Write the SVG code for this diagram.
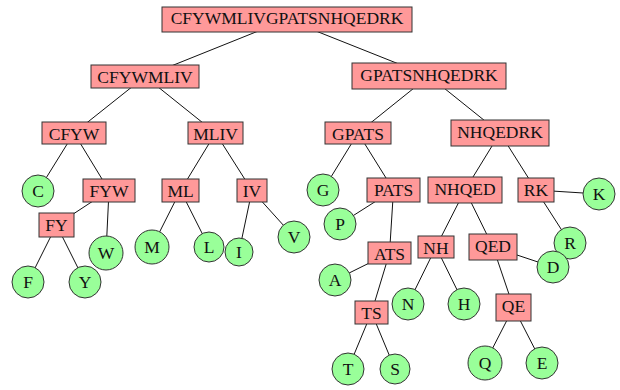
<svg xmlns="http://www.w3.org/2000/svg" width="620" height="390" viewBox="0 0 620 390">
<style>
.b{fill:#ff9999;stroke:#333;stroke-width:1}
.c{fill:#99ff99;stroke:#333;stroke-width:1}
text{font-family:"Liberation Serif","Times New Roman",serif;font-size:17.5px;fill:#111;text-anchor:middle}
#edges line{stroke:#111;stroke-width:1}
</style>
<rect width="620" height="390" fill="#fff"/>
<g id="edges">
<line x1="287" y1="19.5" x2="145" y2="76.5"/>
<line x1="287" y1="19.5" x2="429" y2="76"/>
<line x1="145" y1="76.5" x2="74" y2="133"/>
<line x1="145" y1="76.5" x2="215.5" y2="133"/>
<line x1="429" y1="76" x2="358" y2="133"/>
<line x1="429" y1="76" x2="500" y2="133"/>
<line x1="74" y1="133" x2="38" y2="191"/>
<line x1="74" y1="133" x2="109" y2="190.5"/>
<line x1="215.5" y1="133" x2="180.5" y2="190.5"/>
<line x1="215.5" y1="133" x2="252" y2="190.5"/>
<line x1="358" y1="133" x2="323" y2="190"/>
<line x1="358" y1="133" x2="393.5" y2="190"/>
<line x1="500" y1="133" x2="465" y2="190"/>
<line x1="500" y1="133" x2="536" y2="190"/>
<line x1="109" y1="190.5" x2="56.5" y2="225"/>
<line x1="109" y1="190.5" x2="106" y2="253"/>
<line x1="56.5" y1="225" x2="28" y2="282"/>
<line x1="56.5" y1="225" x2="85" y2="282"/>
<line x1="180.5" y1="190.5" x2="152" y2="247"/>
<line x1="180.5" y1="190.5" x2="209" y2="247"/>
<line x1="252" y1="190.5" x2="239" y2="252"/>
<line x1="252" y1="190.5" x2="294" y2="237"/>
<line x1="393.5" y1="190" x2="340" y2="224"/>
<line x1="393.5" y1="190" x2="389.5" y2="253"/>
<line x1="389.5" y1="253" x2="335" y2="280"/>
<line x1="389.5" y1="253" x2="371.5" y2="312.5"/>
<line x1="371.5" y1="312.5" x2="348" y2="369"/>
<line x1="371.5" y1="312.5" x2="395" y2="369"/>
<line x1="465" y1="190" x2="436" y2="247"/>
<line x1="465" y1="190" x2="493" y2="247"/>
<line x1="436" y1="247" x2="408" y2="304"/>
<line x1="436" y1="247" x2="464" y2="304"/>
<line x1="493" y1="247" x2="513.5" y2="307.5"/>
<line x1="493" y1="247" x2="553" y2="267"/>
<line x1="513.5" y1="307.5" x2="485" y2="363"/>
<line x1="513.5" y1="307.5" x2="542" y2="363"/>
<line x1="536" y1="190" x2="570" y2="243"/>
<line x1="536" y1="190" x2="599" y2="194"/>
</g>
<g id="n-root"><rect class="b" x="162" y="7" width="250" height="25"/><text x="287" y="24">CFYWMLIVGPATSNHQEDRK</text></g>
<g id="n-CFYWMLIV"><rect class="b" x="91" y="65" width="108" height="23"/><text x="145" y="82.5">CFYWMLIV</text></g>
<g id="n-GPATSNHQEDRK"><rect class="b" x="352" y="63" width="154" height="26"/><text x="429" y="81">GPATSNHQEDRK</text></g>
<g id="n-CFYW"><rect class="b" x="42" y="122" width="64" height="22"/><text x="74" y="139.5">CFYW</text></g>
<g id="n-MLIV"><rect class="b" x="188" y="122" width="55" height="22"/><text x="215.5" y="139.5">MLIV</text></g>
<g id="n-GPATS"><rect class="b" x="325" y="122" width="66" height="22"/><text x="358" y="139.5">GPATS</text></g>
<g id="n-NHQEDRK"><rect class="b" x="451" y="120" width="98" height="26"/><text x="500" y="138">NHQEDRK</text></g>
<g id="n-FYW"><rect class="b" x="83" y="179" width="52" height="23"/><text x="109" y="196.5">FYW</text></g>
<g id="n-ML"><rect class="b" x="162" y="179" width="37" height="23"/><text x="180.5" y="196.5">ML</text></g>
<g id="n-IV"><rect class="b" x="237" y="179" width="30" height="23"/><text x="252" y="196.5">IV</text></g>
<g id="n-PATS"><rect class="b" x="367" y="178" width="53" height="24"/><text x="393.5" y="196">PATS</text></g>
<g id="n-NHQED"><rect class="b" x="428" y="177" width="74" height="26"/><text x="465" y="194.5">NHQED</text></g>
<g id="n-RK"><rect class="b" x="518" y="178" width="36" height="24"/><text x="536" y="196">RK</text></g>
<g id="n-FY"><rect class="b" x="39" y="213" width="35" height="24"/><text x="56.5" y="231">FY</text></g>
<g id="n-ATS"><rect class="b" x="368" y="242" width="43" height="22"/><text x="389.5" y="259.5">ATS</text></g>
<g id="n-NH"><rect class="b" x="418" y="236" width="36" height="22"/><text x="436" y="253.5">NH</text></g>
<g id="n-QED"><rect class="b" x="469" y="234" width="48" height="26"/><text x="493" y="251.5">QED</text></g>
<g id="n-TS"><rect class="b" x="355" y="301" width="33" height="23"/><text x="371.5" y="318.5">TS</text></g>
<g id="n-QE"><rect class="b" x="496" y="294" width="35" height="27"/><text x="513.5" y="312">QE</text></g>
<g id="n-C"><circle class="c" cx="38" cy="191" r="16"/><text x="38" y="197">C</text></g>
<g id="n-G"><circle class="c" cx="323" cy="190" r="16"/><text x="323" y="196">G</text></g>
<g id="n-K"><circle class="c" cx="599" cy="194" r="16"/><text x="599" y="200">K</text></g>
<g id="n-W"><circle class="c" cx="106" cy="253" r="17"/><text x="106" y="259">W</text></g>
<g id="n-M"><circle class="c" cx="152" cy="247" r="17"/><text x="152" y="253">M</text></g>
<g id="n-L"><circle class="c" cx="209" cy="247" r="15"/><text x="209" y="253">L</text></g>
<g id="n-I"><circle class="c" cx="239" cy="252" r="14"/><text x="239" y="258">I</text></g>
<g id="n-V"><circle class="c" cx="294" cy="237" r="16"/><text x="294" y="243">V</text></g>
<g id="n-P"><circle class="c" cx="340" cy="224" r="16"/><text x="340" y="230">P</text></g>
<g id="n-R"><circle class="c" cx="570" cy="243" r="16"/><text x="570" y="249">R</text></g>
<g id="n-D"><circle class="c" cx="553" cy="267" r="16"/><text x="553" y="273">D</text></g>
<g id="n-F"><circle class="c" cx="28" cy="282" r="16"/><text x="28" y="288">F</text></g>
<g id="n-Y"><circle class="c" cx="85" cy="282" r="16"/><text x="85" y="288">Y</text></g>
<g id="n-A"><circle class="c" cx="335" cy="280" r="16"/><text x="335" y="286">A</text></g>
<g id="n-N"><circle class="c" cx="408" cy="304" r="16"/><text x="408" y="310">N</text></g>
<g id="n-H"><circle class="c" cx="464" cy="304" r="16"/><text x="464" y="310">H</text></g>
<g id="n-T"><circle class="c" cx="348" cy="369" r="16"/><text x="348" y="375">T</text></g>
<g id="n-S"><circle class="c" cx="395" cy="369" r="15"/><text x="395" y="375">S</text></g>
<g id="n-Q"><circle class="c" cx="485" cy="363" r="17"/><text x="485" y="369">Q</text></g>
<g id="n-E"><circle class="c" cx="542" cy="363" r="16"/><text x="542" y="369">E</text></g>
</svg>
